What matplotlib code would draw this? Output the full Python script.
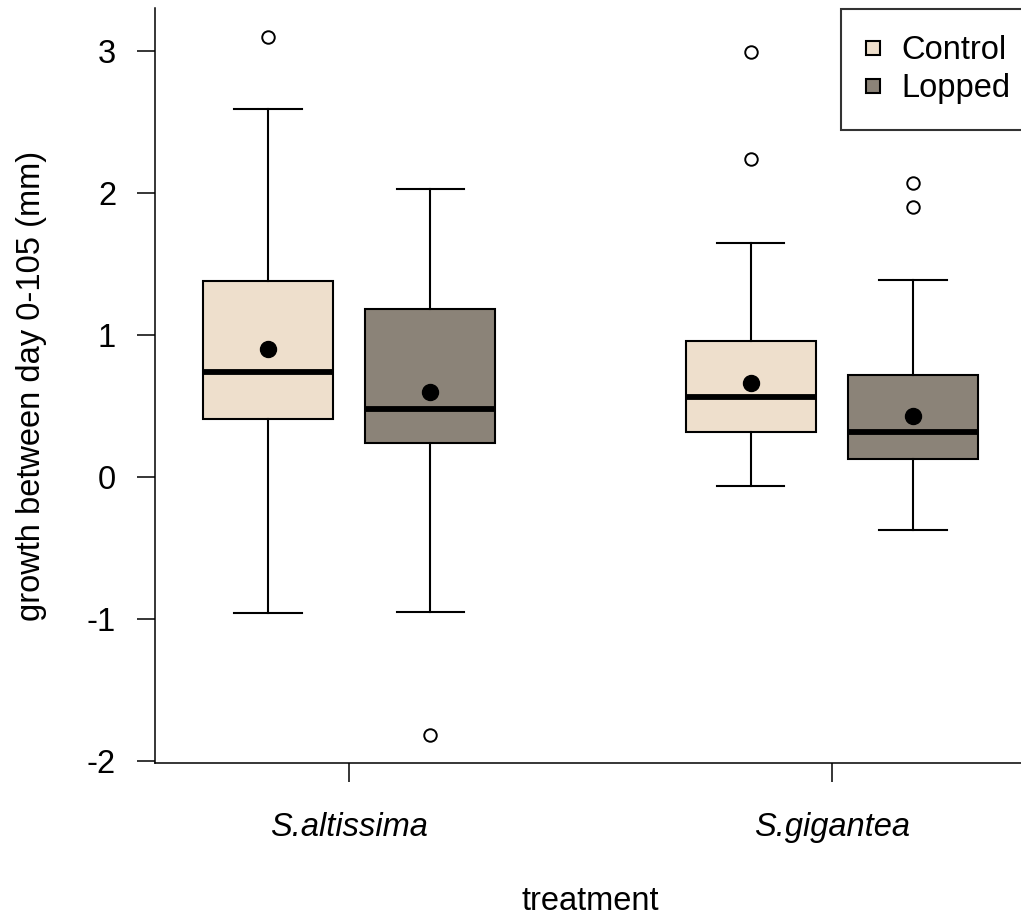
import matplotlib
matplotlib.use("Agg")
import matplotlib.pyplot as plt
from matplotlib.lines import Line2D

plt.rcParams['font.family'] = ['Liberation Sans', 'DejaVu Sans']

# values
species = ['S.altissima', 'S.gigantea']
treatments = ['Control', 'Lopped']
colors = ['#EEDFCC', '#8B8378']

# per species, per treatment: [whisker low, q1, median, q3, whisker high]
box_stats = {
    'S.altissima': {'Control': [-0.96, 0.41, 0.74, 1.38, 2.59],
                    'Lopped': [-0.95, 0.24, 0.48, 1.18, 2.03]},
    'S.gigantea': {'Control': [-0.06, 0.32, 0.56, 0.96, 1.65],
                   'Lopped': [-0.37, 0.125, 0.32, 0.72, 1.39]},
}
means = {
    'S.altissima': {'Control': 0.90, 'Lopped': 0.60},
    'S.gigantea': {'Control': 0.66, 'Lopped': 0.43},
}
outliers = {
    'S.altissima': {'Control': [3.10], 'Lopped': [-1.82]},
    'S.gigantea': {'Control': [2.99, 2.24], 'Lopped': [2.07, 1.90]},
}

W, H = 1021, 918
fig = plt.figure(figsize=(W / 100, H / 100), dpi=100)
ax = fig.add_axes([155 / W, 155 / H, 871 / W, 755 / H])

fs = 23.5
offset = 0.168
for gi, sp in enumerate(species):
    for ti, tr in enumerate(treatments):
        lo, q1, med, q3, hi = box_stats[sp][tr]
        st = dict(whislo=lo, q1=q1, med=med, q3=q3, whishi=hi,
                  mean=means[sp][tr], fliers=outliers[sp][tr])
        pos = gi + 1 + (ti * 2 - 1) * offset
        ax.bxp([st], positions=[pos], widths=0.27, capwidths=0.139,
               showmeans=True, patch_artist=True,
               boxprops=dict(facecolor=colors[ti], edgecolor='black', linewidth=1.5),
               medianprops=dict(color='black', linewidth=4.2, solid_capstyle='butt'),
               whiskerprops=dict(color='black', linewidth=1.5),
               capprops=dict(color='black', linewidth=1.5),
               meanprops=dict(marker='o', markerfacecolor='black',
                              markeredgecolor='black', markersize=11.5),
               flierprops=dict(marker='o', markerfacecolor='none',
                               markeredgecolor='black', markersize=9,
                               markeredgewidth=1.4))

ax.set_xlim(0.598, 2.402)
ax.set_ylim(-2.014, 3.303)
ax.set_xticks([1, 2])
ax.set_xticklabels(species, fontstyle='italic', fontsize=fs)
ax.set_yticks([-2, -1, 0, 1, 2, 3])
ax.set_yticklabels(['-2', '-1', '0', '1', '2', '3'], fontsize=fs)
ax.tick_params(axis='y', length=13, width=1.1, pad=15)
ax.tick_params(axis='x', length=14, width=1.1, pad=21)
for s in ['top', 'right']:
    ax.spines[s].set_visible(False)
for s in ['left', 'bottom']:
    ax.spines[s].set_linewidth(1.1)

ax.set_xlabel('treatment', fontsize=fs, labelpad=31)
ax.set_ylabel('growth between day 0-105 (mm)', fontsize=fs, labelpad=29)

handles = [Line2D([], [], linestyle='none', marker='s', markersize=10,
                  markerfacecolor=c, markeredgecolor='black', markeredgewidth=1.5)
           for c in colors]
leg = ax.legend(handles, treatments, loc='upper right',
                bbox_to_anchor=(1037 / W, (H - 9) / H),
                bbox_transform=fig.transFigure,
                borderaxespad=0, fontsize=fs, frameon=True, fancybox=False,
                handlelength=0.4, handletextpad=0.67, labelspacing=0.22,
                borderpad=0.8)
leg.get_frame().set_edgecolor('black')
leg.get_frame().set_linewidth(1.5)

fig.savefig('out.png', dpi=100)
